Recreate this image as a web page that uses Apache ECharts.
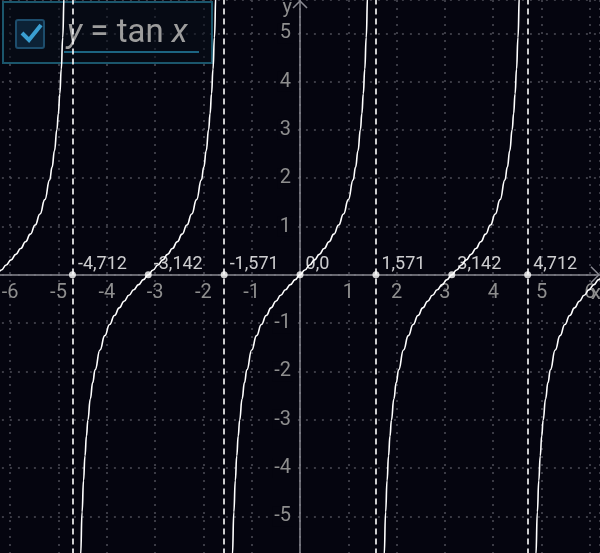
<!DOCTYPE html>
<html>
<head>
<meta charset="utf-8">
<script src="https://cdn.jsdelivr.net/npm/echarts@6/dist/echarts.min.js"></script>
<style>
  html, body { margin: 0; padding: 0; background: #05050f; }
  #chart { width: 600px; height: 553px; }
</style>
</head>
<body>
<div id="chart"></div>
<script>
// tan x branches
const branchCenters = [-6.283, -3.142, 0, 3.142, 6.283];
const offsets = [-1.43, -1.40, -1.37, -1.34, -1.31, -1.28, -1.25, -1.2, -1.15, -1.1, -1.0, -0.9, -0.8, -0.7, -0.6,
                 -0.5, -0.4, -0.3, -0.2, -0.1, 0,
                 0.1, 0.2, 0.3, 0.4, 0.5, 0.6, 0.7, 0.8, 0.9, 1.0, 1.1, 1.15, 1.2, 1.25, 1.28, 1.31, 1.34, 1.37, 1.40, 1.43];
const tanValues = [-7.07, -5.80, -4.91, -4.26, -3.75, -3.34, -3.01, -2.57, -2.23, -1.965, -1.557, -1.26, -1.03, -0.842, -0.684,
                   -0.546, -0.423, -0.309, -0.203, -0.100, 0,
                   0.100, 0.203, 0.309, 0.423, 0.546, 0.684, 0.842, 1.03, 1.26, 1.557, 1.965, 2.23, 2.57, 3.01, 3.34, 3.75, 4.26, 4.91, 5.80, 7.07];

// marked points on the x axis
const pointX = [-4.712, -3.142, -1.571, 0, 1.571, 3.142, 4.712];
const pointLabels = ['-4,712', '-3,142', '-1,571', '0,0', '1,571', '3,142', '4,712'];
const asymptotes = [-4.712, -1.571, 1.571, 4.712];

const bg = '#05050f';
const tickColor = '#8e8e8e';
const axisColor = '#8a8a92';
const font = 'Roboto';

// 坐标范围 (网格超出画布, 让原点落在 300,275)
const xMin = -7, xMax = 6.21, yMin = -6, yMax = 5.69;
const grid = { left: -38.1, top: 0, width: 638.1, height: 564.6 };
// 让坐标轴(和标签)移到 0 处
const xAxisOffset = -grid.height * (0 - yMin) / (yMax - yMin);
const yAxisOffset = -grid.width * (0 - xMin) / (xMax - xMin);
const originX = grid.left - yAxisOffset;
const originY = grid.top + grid.height + xAxisOffset;

const chart = echarts.init(document.getElementById('chart'));

const branchSeries = branchCenters.map((c, i) => ({
  type: 'line',
  name: 'tan' + i,
  data: offsets.map((o, j) => [c + o, tanValues[j]]),
  showSymbol: false,
  smooth: true,
  smoothMonotone: 'x',
  clip: true,
  lineStyle: { color: '#ffffff', width: 1.6 },
  silent: true,
  z: 3
}));

// 刻度标签只显示整数, 不显示0
const intLabel = v => (Math.abs(v - Math.round(v)) < 1e-6 && Math.round(v) !== 0) ? String(Math.round(v)) : '';

chart.setOption({
  backgroundColor: bg,
  animation: false,
  grid: Object.assign({ outerBoundsMode: 'none', containLabel: false }, grid),
  xAxis: {
    type: 'value',
    min: xMin,
    max: xMax,
    interval: 1,
    offset: xAxisOffset,
    axisLine: { onZero: false, lineStyle: { color: axisColor, width: 1.5 } },
    axisTick: { show: false },
    axisLabel: { color: tickColor, fontSize: 20, fontFamily: font, margin: 8, formatter: intLabel, showMaxLabel: false, hideOverlap: false },
    splitLine: { show: true, lineStyle: { color: '#4e4e58', width: 1.5, type: [2, 6] } }
  },
  yAxis: {
    type: 'value',
    min: yMin,
    max: yMax,
    interval: 1,
    offset: yAxisOffset,
    axisLine: { onZero: false, lineStyle: { color: axisColor, width: 1.5 } },
    axisTick: { show: false },
    axisLabel: { color: tickColor, fontSize: 20, fontFamily: font, margin: 7, formatter: intLabel, showMaxLabel: false,
                 backgroundColor: bg, padding: [0, 2] },
    splitLine: { show: true, lineStyle: { color: '#4e4e58', width: 1.5, type: [2, 6] } }
  },
  graphic: [
    // 坐标轴箭头和名称
    { type: 'polyline', z: 5, shape: { points: [[originX - 7, 8], [originX, 1], [originX + 7, 8]] },
      style: { stroke: axisColor, lineWidth: 1.5, fill: null } },
    { type: 'polyline', z: 5, shape: { points: [[591, originY - 8], [599, originY], [591, originY + 8]] },
      style: { stroke: axisColor, lineWidth: 1.5, fill: null } },
    { type: 'text', z: 5, x: originX - 8, y: -2,
      style: { text: 'y', fill: tickColor, fontSize: 20, fontFamily: font, align: 'right', verticalAlign: 'top' } },
    { type: 'text', z: 5, x: 601, y: originY + 9,
      style: { text: 'x', fill: tickColor, fontSize: 20, fontFamily: font, align: 'right', verticalAlign: 'top' } },
    // 图例框
    { type: 'rect', z: 1, shape: { x: 3, y: 2, width: 209, height: 61 },
      style: { fill: 'rgba(8,14,26,0.55)', stroke: '#1b566c', lineWidth: 2 } },
    { type: 'line', z: 1, shape: { x1: 64, y1: 52, x2: 199, y2: 52 },
      style: { stroke: '#1c6582', lineWidth: 2 } },
    { type: 'rect', z: 1, shape: { x: 16, y: 20, width: 28, height: 28, r: 2 },
      style: { fill: '#0c2236', stroke: '#1d4d6c', lineWidth: 2 } },
    { type: 'polyline', z: 1, shape: { points: [[22, 33], [29, 40], [41, 25]] },
      style: { stroke: '#3a9fd2', lineWidth: 4, fill: null } },
    { type: 'text', z: 1, x: 67, y: 34,
      style: { text: '{i|y} = tan {i|x}', fill: '#9d9d9d', fontSize: 33, fontFamily: font, verticalAlign: 'middle',
               rich: { i: { fontStyle: 'italic', fontSize: 33, fontFamily: font, fill: '#9d9d9d' } } } }
  ],
  series: branchSeries.concat([
    {
      type: 'scatter',
      name: 'points',
      data: pointX.map((x, i) => ({ value: [x, 0], label: { formatter: pointLabels[i] } })),
      symbolSize: 7,
      itemStyle: { color: '#ffffff' },
      label: { show: true, position: [9, -16], color: '#ffffff', fontSize: 18, fontFamily: font, align: 'left', verticalAlign: 'top' },
      silent: true,
      z: 4
    },
    {
      type: 'line',
      name: 'asymptotes',
      data: [],
      markLine: {
        silent: true,
        symbol: ['none', 'none'],
        label: { show: false },
        lineStyle: { color: '#ffffff', width: 1.6, type: [6, 4] },
        data: asymptotes.map(x => ({ xAxis: x }))
      },
      z: 2
    }
  ])
});
</script>
</body>
</html>
